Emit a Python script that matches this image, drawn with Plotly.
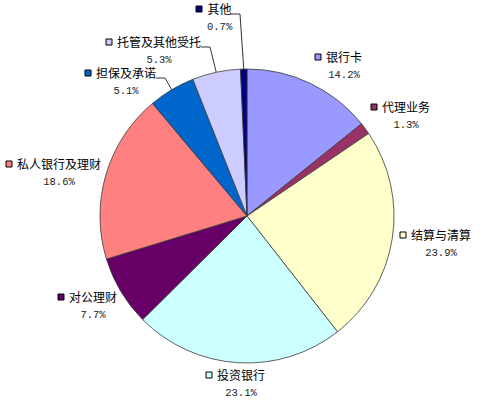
import math
import plotly.graph_objects as go

# ---- data ----
categories = ["银行卡", "代理业务", "结算与清算", "投资银行", "对公理财",
              "私人银行及理财", "担保及承诺", "托管及其他受托", "其他"]
shares = [14.2, 1.3, 23.9, 23.1, 7.7, 18.6, 5.1, 5.3, 0.7]

# ---- styling / layout ----
colors = ["#9999FF", "#993366", "#FFFFCC", "#CCFFFF", "#660066",
          "#FF8080", "#0066CC", "#CCCCFF", "#000080"]
W, H = 480, 400
CX, CY, R = 247, 216, 147
# label text start (x) and first-line centre (y), in pixels
label_x = [324, 380, 409, 215, 67, 15, 94, 115, 205]
label_y = [57, 107, 235, 375, 297, 164, 73, 42, 9]
leader = [False, False, False, False, False, False, True, True, True]
FONT = "Noto Sans CJK SC"
PCT_FONT = "Liberation Mono"
CHAR_W = 12

fig = go.Figure()
fig.add_trace(go.Pie(
    labels=categories, values=shares, sort=False, direction="clockwise",
    rotation=0, marker=dict(colors=colors, line=dict(color="#3a3a3a", width=0.8)),
    textinfo="none", hoverinfo="label+percent", showlegend=False,
    domain=dict(x=[(CX - R) / W, (CX + R) / W],
                y=[(H - CY - R) / H, (H - CY + R) / H]),
))

total = sum(shares)
cum = 0.0
annotations = []
for i, (name, v) in enumerate(zip(categories, shares)):
    mid = (cum + v / 2) / total * 2 * math.pi
    cum += v
    tx, ty = label_x[i], label_y[i]
    # legend-key square
    fig.add_trace(go.Scatter(
        x=[tx - 6], y=[ty], mode="markers", hoverinfo="skip", showlegend=False,
        marker=dict(symbol="square", size=6, color=colors[i],
                    line=dict(color="#000000", width=1)),
        xaxis="x", yaxis="y"))
    annotations.append(dict(
        x=tx, y=ty + 7, xref="x", yref="y", xanchor="left", yanchor="middle",
        text=(f"{name}<br><span style=\"font-family:'{PCT_FONT}';font-size:10.5px;"
              f"color:#222\">{v:.1f}%</span>"),
        showarrow=False, align="center",
        font=dict(family=FONT, size=12, color="#000000")))
    if leader[i]:
        ax = CX + R * math.sin(mid)
        ay = CY - R * math.cos(mid)
        sx = tx + CHAR_W * len(name) + 2
        sy = ty + 5
        ex = min(sx + 9, ax - 2)
        fig.add_trace(go.Scatter(
            x=[sx, ex, ax], y=[sy, sy, ay], mode="lines", hoverinfo="skip",
            showlegend=False, line=dict(color="#000000", width=0.8),
            xaxis="x", yaxis="y"))

fig.update_layout(
    width=W, height=H, autosize=False,
    margin=dict(l=0, r=0, t=0, b=0),
    paper_bgcolor="white", plot_bgcolor="rgba(0,0,0,0)",
    xaxis=dict(range=[0, W], visible=False, fixedrange=True, domain=[0, 1]),
    yaxis=dict(range=[H, 0], visible=False, fixedrange=True, domain=[0, 1]),
    annotations=annotations,
)

fig.write_html("out.html", config={"displayModeBar": False},
               post_script="document.body.style.margin='0';document.body.style.overflow='hidden';")
